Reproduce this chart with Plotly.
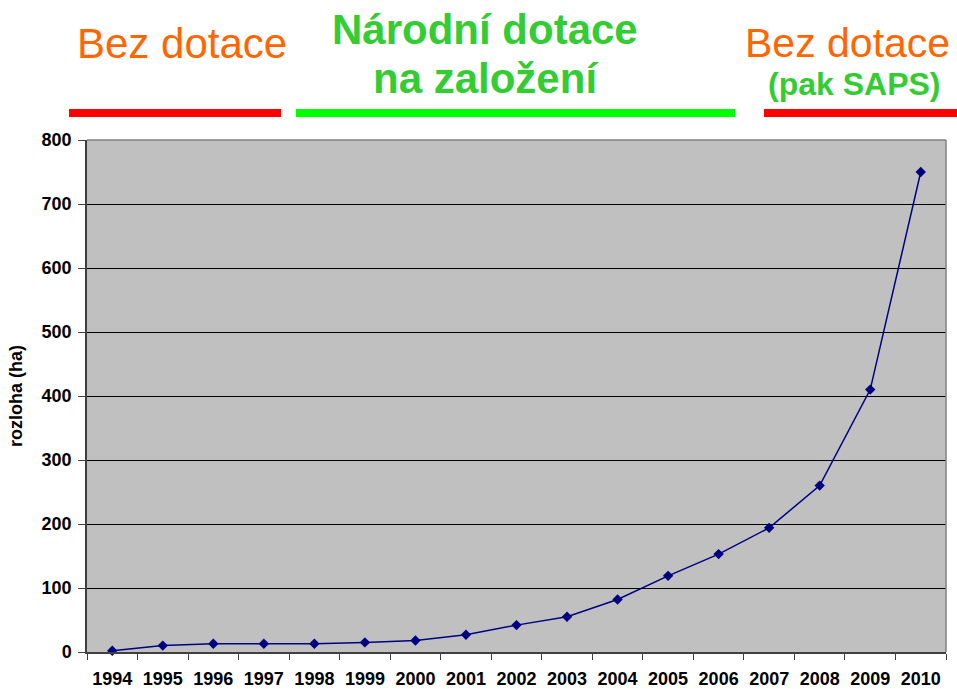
import plotly.graph_objects as go

years = ["1994", "1995", "1996", "1997", "1998", "1999", "2000", "2001", "2002",
         "2003", "2004", "2005", "2006", "2007", "2008", "2009", "2010"]
area_ha = [2, 10, 13, 13, 13, 15, 18, 27, 42, 55, 82, 119, 153, 194, 260, 410, 750]
y_ticks = [0, 100, 200, 300, 400, 500, 600, 700, 800]

W, H = 957, 689
L, R, T, B = 87, 946, 140, 652

def px(x):
    return (x - L) / (R - L)

def py(y):
    return (B - y) / (B - T)

fig = go.Figure()
fig.add_trace(go.Scatter(
    x=years, y=area_ha, mode="lines+markers",
    line=dict(color="#000080", width=1.5),
    marker=dict(symbol="diamond", size=8, color="#000080"),
    showlegend=False, cliponaxis=False,
))

font_fam = "Liberation Sans, Arial, sans-serif"

annotations = [
    dict(text="Bez dotace", x=px(182), y=py(43), font=dict(size=42, color="#FF6600")),
    dict(text="<b>Národní dotace</b>", x=px(485), y=py(29), font=dict(size=42, color="#33CC33")),
    dict(text="<b>na založení</b>", x=px(485), y=py(78), font=dict(size=42, color="#33CC33")),
    dict(text="Bez dotace", x=px(847), y=py(43), font=dict(size=41, color="#FF6600")),
    dict(text="<b>(pak SAPS)</b>", x=px(854), y=py(84), font=dict(size=32, color="#33CC33")),
]
for a in annotations:
    a.update(xref="paper", yref="paper", showarrow=False, xanchor="center", yanchor="middle")
    a["font"]["family"] = font_fam

shapes = [
    dict(type="rect", x0=px(69), x1=px(281), y0=py(117), y1=py(109), fillcolor="#FF0000"),
    dict(type="rect", x0=px(296), x1=px(735), y0=py(117), y1=py(109), fillcolor="#00FF00"),
    dict(type="rect", x0=px(764), x1=px(957), y0=py(117), y1=py(109), fillcolor="#FF0000"),
    dict(type="line", x0=0, x1=1, y0=1, y1=1, line=dict(color="#808080", width=1.5)),
    dict(type="line", x0=1, x1=1, y0=0, y1=1, line=dict(color="#808080", width=1.5)),
]
for s in shapes:
    s.update(xref="paper", yref="paper", layer="above")
    if s["type"] == "rect":
        s["line"] = dict(width=0)

fig.update_layout(
    width=W, height=H,
    margin=dict(l=L, r=W - R, t=T, b=H - B, autoexpand=False),
    paper_bgcolor="white", plot_bgcolor="#C0C0C0",
    font=dict(family=font_fam, color="black"),
    annotations=annotations, shapes=shapes,
    xaxis=dict(
        type="category", tickson="boundaries", ticks="outside", ticklen=6,
        tickcolor="#404040", tickwidth=1, showgrid=False,
        showline=True, linecolor="#404040", linewidth=1.5,
        tickfont=dict(size=18, family=font_fam, weight="bold"),
        range=[-0.5, len(years) - 0.5], ticklabelstandoff=10, automargin=False,
    ),
    yaxis=dict(
        range=[0, 800], tickvals=y_ticks, ticks="outside", ticklen=7,
        tickcolor="#404040", showgrid=True, gridcolor="black", gridwidth=1,
        showline=True, linecolor="#404040", linewidth=1.5, zeroline=False,
        tickfont=dict(size=18, family=font_fam, weight="bold"),
        ticklabelstandoff=3, automargin=False,
        title=dict(text="<b>rozloha (ha)</b>", font=dict(size=18, family=font_fam), standoff=14),
    ),
)

fig.write_html("out.html", config={"displayModeBar": False},
               post_script="document.body.style.margin='0';")
